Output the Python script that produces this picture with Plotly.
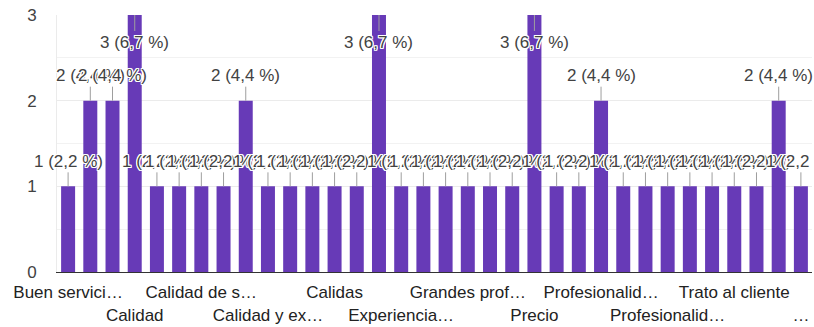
import plotly.graph_objects as go

# Responses per answer (sorted alphabetically)
categories = [
    "Buen servicio y atención", "Buena atención", "Buenos profesionales", "Calidad",
    "Calidad de atención", "Calidad de los productos", "Calidad de servicio",
    "Calidad en el trabajo", "Calidad precio", "Calidad y experiencia",
    "Calidad y precio", "Calidad y rapidez", "Calidas", "Cercanía", "Confianza",
    "Experiencia y calidad", "Facilidad", "Garantía", "Grandes profesionales",
    "Honestidad", "Limpieza", "Precio", "Precio y calidad", "Precios",
    "Profesionalidad", "Profesionalidad y calidad", "Profesionalidad y rapidez",
    "Profesionalidad y trato", "Profesionalismo", "Rapidez", "Trato al cliente",
    "Trato amable", "Trato personal", "Trato y profesionalidad del equipo",
]
counts = [1, 2, 2, 3, 1, 1, 1, 1, 2, 1, 1, 1, 1, 1, 3, 1, 1, 1, 1, 1, 1, 3, 1, 1,
          2, 1, 1, 1, 1, 1, 1, 1, 2, 1]

# Every third category gets a (shortened) axis label, on two alternating rows
tick_labels = [
    "Buen servici…", "Calidad", "Calidad de s…", "Calidad y ex…", "Calidas",
    "Experiencia…", "Grandes prof…", "Precio", "Profesionalid…", "Profesionalid…",
    "Trato al cliente", "…",
]
y_ticks = [0, 1, 2, 3]

BAR = "#673ab7"
TEXT = "#424242"
FONT = "Liberation Sans, Arial, sans-serif"
FS = 17
HALO = ("-1px -1px 0 #fff, 1px -1px 0 #fff, -1px 1px 0 #fff, 1px 1px 0 #fff, "
        "0 -1px 0 #fff, 0 1px 0 #fff, -1px 0 0 #fff, 1px 0 0 #fff")

total = sum(counts)
y_max = max(counts)

fig = go.Figure(
    go.Bar(x=categories, y=counts, marker=dict(color=BAR, line=dict(width=0)),
           hoverinfo="skip")
)

tick_vals = categories[::3]
tick_text = [t if i % 2 == 0 else "<br>" + t for i, t in enumerate(tick_labels)]

annotations = []
for cat, v in zip(categories, counts):
    pct = f"{v / total * 100:.1f}".replace(".", ",")
    inside = v >= y_max
    annotations.append(dict(
        x=cat, y=v, xref="x", yref="y",
        text=f"{v} ({pct} %)",
        showarrow=True, arrowhead=0, arrowwidth=1, arrowcolor="#9e9e9e",
        standoff=0, ax=0, ay=27 if inside else -25,
        font=dict(family=FONT, size=FS, color=TEXT, shadow=HALO),
    ))

fig.update_layout(
    width=814, height=327,
    margin=dict(l=57, r=2, t=15, b=55, autoexpand=False),
    paper_bgcolor="white", plot_bgcolor="white",
    bargap=0.37,
    showlegend=False,
    font=dict(family=FONT, size=FS, color=TEXT),
    annotations=annotations,
    xaxis=dict(
        type="category",
        range=[-0.5, len(categories) - 0.5],
        tickmode="array", tickvals=tick_vals, ticktext=tick_text,
        tickangle=0, automargin=False,
        showline=True, linecolor="#333333", linewidth=1,
        showgrid=False, zeroline=False,
        ticks="outside", ticklen=5, tickcolor="rgba(0,0,0,0)",
        tickfont=dict(family=FONT, size=FS, color="#222222"),
    ),
    yaxis=dict(
        range=[0, y_max], automargin=False,
        tickmode="array", tickvals=y_ticks,
        showgrid=True, gridcolor="#ebebeb", gridwidth=1,
        minor=dict(dtick=0.5, showgrid=True, gridcolor="#f2f2f2"),
        zeroline=False,
        showline=True, linecolor="#ebebeb", linewidth=1,
        ticks="outside", ticklen=16, tickcolor="rgba(0,0,0,0)",
        tickfont=dict(family=FONT, size=FS, color=TEXT),
    ),
)

fig.write_html("out.html")
